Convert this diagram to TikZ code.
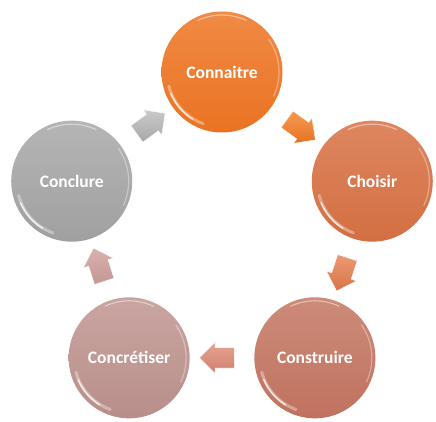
\documentclass[tikz,border=0pt]{standalone}
\usepackage{fontspec}
\setmainfont{Carlito}
\usetikzlibrary{shapes.arrows,calc}
\definecolor{oA}{HTML}{F08A45}\definecolor{oB}{HTML}{EA7322}
\definecolor{sA}{HTML}{DE8660}\definecolor{sB}{HTML}{D36F42}
\definecolor{rA}{HTML}{CD8B7A}\definecolor{rB}{HTML}{C0725E}
\definecolor{pA}{HTML}{C9A5A1}\definecolor{pB}{HTML}{B98E8A}
\definecolor{gA}{HTML}{B5B5B5}\definecolor{gB}{HTML}{A0A0A0}
\definecolor{aoA}{HTML}{F69A55}\definecolor{aoB}{HTML}{E8721F}
\definecolor{asA}{HTML}{EB9A72}\definecolor{asB}{HTML}{D8744A}
\definecolor{arA}{HTML}{E6A493}\definecolor{arB}{HTML}{D27F6C}
\definecolor{apA}{HTML}{D9B2AE}\definecolor{apB}{HTML}{C49692}
\definecolor{agA}{HTML}{CACACA}\definecolor{agB}{HTML}{A8A8A8}
\newcommand\glossyrim[1]{%
  \draw[white,opacity=0.35,line width=3pt,line cap=round] (#1.center) ++(195:55pt) arc[start angle=195,end angle=250,radius=55pt];
  \draw[white,opacity=0.8,line width=1.4pt,line cap=round] (#1.center) ++(203:55.5pt) arc[start angle=203,end angle=238,radius=55.5pt];
  \draw[white,opacity=0.45,line width=1.2pt,line cap=round] (#1.center) ++(65:57pt) arc[start angle=65,end angle=115,radius=57pt];
  \draw[white,opacity=0.35,line width=1.2pt,line cap=round] (#1.center) ++(-25:57pt) arc[start angle=-25,end angle=35,radius=57pt];
}
\begin{document}
\begin{tikzpicture}[x=1pt,y=1pt,
  bub/.style={circle,minimum size=121pt,inner sep=0pt,text=white,
    font=\fontsize{17.5}{20}\selectfont\bfseries},
  blockarrow/.style={single arrow,minimum height=35pt,inner xsep=0pt,inner ysep=10pt,
    single arrow head extend=5.5pt,draw=white,line width=0.4pt}]
\useasboundingbox (0,0) rectangle (436,422);
\fill[white] (0,0) rectangle (436,422);
\coordinate (ctr) at (222,192);
\node[bub,top color=oA,bottom color=oB] (c1) at ($(ctr)+(90:158pt)$) {Connaitre};
\node[bub,top color=sA,bottom color=sB] (c2) at ($(ctr)+(18:158pt)$) {Choisir};
\node[bub,top color=rA,bottom color=rB] (c3) at ($(ctr)+(-54:158pt)$) {Construire};
\node[bub,top color=pA,bottom color=pB] (c4) at ($(ctr)+(-126:158pt)$) {Concrétiser};
\node[bub,top color=gA,bottom color=gB] (c5) at ($(ctr)+(162:158pt)$) {Conclure};
\glossyrim{c1}\glossyrim{c2}\glossyrim{c3}\glossyrim{c4}\glossyrim{c5}
\node[blockarrow,top color=aoA,bottom color=aoB,rotate=-36] (a1) at ($(c1)!0.5!(c2)$) {};
\node[blockarrow,top color=asA,bottom color=asB,rotate=-108] (a2) at ($(c2)!0.5!(c3)$) {};
\node[blockarrow,top color=arA,bottom color=arB,rotate=180] (a3) at ($(c3)!0.5!(c4)$) {};
\node[blockarrow,top color=apA,bottom color=apB,rotate=108] (a4) at ($(c4)!0.5!(c5)$) {};
\node[blockarrow,top color=agA,bottom color=agB,rotate=36] (a5) at ($(c5)!0.5!(c1)$) {};
\end{tikzpicture}
\end{document}
